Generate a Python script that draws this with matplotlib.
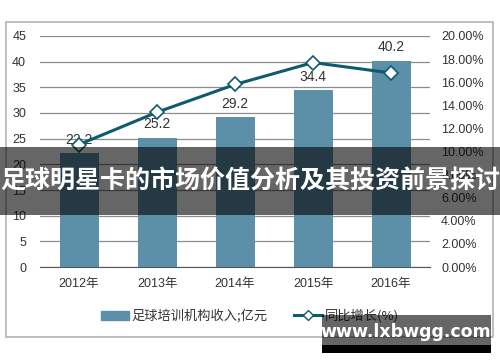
import matplotlib
matplotlib.use("Agg")
import matplotlib.pyplot as plt
import matplotlib.patches as mpatches
from matplotlib.lines import Line2D
import numpy as np

years = ["2012年", "2013年", "2014年", "2015年", "2016年"]
income = [22.2, 25.2, 29.2, 34.4, 40.2]
growth = [10.6, 13.4, 15.8, 17.7, 16.8]

bar_color = "#5b90a8"
line_color = "#0e5a6e"
grid_color = "#8c8c8c"
txt_color = "#333333"
cjk = ["Noto Sans CJK SC", "DejaVu Sans"]
latin = ["Liberation Sans", "Noto Sans CJK SC"]

fig = plt.figure(figsize=(5, 3.62), dpi=100)
fig.patch.set_facecolor("white")

# outer frame
frame = mpatches.Rectangle((6 / 500, 1 - 337 / 362), 487 / 500, 315 / 362,
                           transform=fig.transFigure, fill=False,
                           edgecolor="#b4b4b4", linewidth=1.2)
fig.add_artist(frame)

ax = fig.add_axes([0.08, 0.2624, 0.78, 0.6382])
x = np.arange(len(years))
ax.bar(x, income, width=0.5, color=bar_color, zorder=2)
ax.set_xlim(-0.5, len(years) - 0.5)
ax.set_ylim(0, 45)
ax.set_yticks(range(0, 46, 5))
ax.yaxis.grid(True, color=grid_color, linewidth=0.9, zorder=0)
ax.set_axisbelow(True)
for s in ["top", "right", "left"]:
    ax.spines[s].set_visible(False)
ax.spines["bottom"].set_color("#555555")
ax.tick_params(axis="both", length=0, labelsize=9, colors=txt_color)
ax.tick_params(axis="y", pad=10)
ax.tick_params(axis="x", pad=8)
ax.set_xticks(x)
ax.set_xticklabels(years, fontfamily=latin)
for lab in ax.get_yticklabels():
    lab.set_fontfamily(latin)

for xi, v in zip(x, income):
    ax.text(xi, v + 1.2, f"{v}", ha="center", va="bottom", fontsize=10,
            color=txt_color, fontfamily=latin, zorder=5)

ax2 = ax.twinx()
ax2.plot(x, growth, color=line_color, linewidth=2.2, marker="D", markersize=7,
         markerfacecolor="white", markeredgecolor=line_color, markeredgewidth=1.2, zorder=4)
ax2.set_ylim(0, 20)
ax2.set_yticks(np.arange(0, 20.1, 2))
ax2.set_yticklabels([f"{v:.2f}%" for v in np.arange(0, 20.1, 2)], fontfamily=latin)
for s in ["top", "right", "left", "bottom"]:
    ax2.spines[s].set_visible(False)
ax2.tick_params(axis="y", length=0, labelsize=9, colors=txt_color, pad=8)

# legend
h1 = mpatches.Patch(color=bar_color, label="足球培训机构收入;亿元")
h2 = Line2D([0], [0], color=line_color, linewidth=2.2, marker="D", markersize=5,
            markerfacecolor="white", markeredgecolor=line_color, label="同比增长(%)")
fig.legend(handles=[h1, h2], loc="center", bbox_to_anchor=(0.5, 1 - 316 / 362),
           ncol=2, frameon=False, prop={"family": cjk, "size": 9.5},
           handlelength=2.1, columnspacing=2.0, handletextpad=0.2, labelcolor=txt_color)

# title banner
banner = mpatches.Rectangle((0, 1 - 215 / 362), 1, 68 / 362, transform=fig.transFigure,
                            facecolor="black", alpha=0.6, edgecolor="none", zorder=10)
fig.add_artist(banner)
fig.text(0.5, 1 - 181 / 362, "足球明星卡的市场价值分析及其投资前景探讨", ha="center", va="center",
         color="white", fontsize=18, fontweight="bold", fontfamily=cjk, zorder=11)

# watermark
wm = mpatches.Rectangle((322 / 500, 1 - 345 / 362), 169 / 500, 30 / 362, transform=fig.transFigure,
                        facecolor="black", alpha=0.6, edgecolor="none", zorder=10)
fig.add_artist(wm)
wm2 = mpatches.Rectangle((322 / 500, 1 - 353 / 362), 169 / 500, 8 / 362, transform=fig.transFigure,
                         facecolor="black", edgecolor="none", zorder=10)
fig.add_artist(wm2)
fig.text(406 / 500, 1 - 332 / 362, "www.lxbwgg.com", ha="center", va="center",
         color="white", fontsize=12.5, fontweight="bold", fontfamily=["DejaVu Sans"], zorder=11)

fig.savefig("out.png", dpi=100)
